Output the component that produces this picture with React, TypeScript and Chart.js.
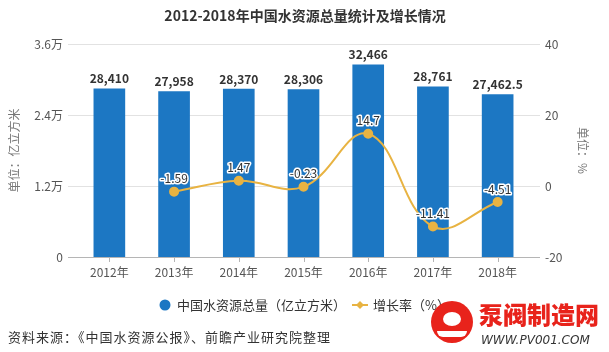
import React, { useEffect, useRef } from "react";
import { Chart, registerables } from "chart.js";

Chart.register(...registerables);

const FONT = "'Noto Sans CJK SC', 'Noto Sans', sans-serif";

const categories = ["2012年", "2013年", "2014年", "2015年", "2016年", "2017年", "2018年"];
const totalWater = [28410, 27958, 28370, 28306, 32466, 28761, 27462.5];
const totalLabels = ["28,410", "27,958", "28,370", "28,306", "32,466", "28,761", "27,462.5"];
const growthRate = [null, -1.59, 1.47, -0.23, 14.7, -11.41, -4.51];
const leftTicks = [0, 12000, 24000, 36000];
const leftTickLabels = ["0", "1.2万", "2.4万", "3.6万"];
const rightTicks = [-20, 0, 20, 40];

const title = "2012-2018年中国水资源总量统计及增长情况";
const seriesNames = ["中国水资源总量（亿立方米）", "增长率（%）"];
const leftAxisTitle = "单位：亿立方米";
const rightAxisTitle = "单位：%";
const sourceText = "资料来源：《中国水资源公报》、前瞻产业研究院整理";

const BLUE = "#1c77c3";
const GOLD = "#e8b342";

const decor = {
  id: "decor",
  beforeDatasetsDraw(chart: any) {
    const ctx = chart.ctx;
    const ca = chart.chartArea;
    const y = chart.scales.y;
    const x = chart.scales.x;
    ctx.save();
    leftTicks.forEach((v) => {
      const py = Math.round(y.getPixelForValue(v)) + 0.5;
      ctx.strokeStyle = v === 0 ? "#b5b5b5" : "#e2e2e2";
      ctx.lineWidth = 1;
      ctx.beginPath();
      ctx.moveTo(ca.left - 9, py);
      ctx.lineTo(ca.right + 10, py);
      ctx.stroke();
    });
    ctx.strokeStyle = "#b5b5b5";
    categories.forEach((_, i) => {
      const px = Math.round(x.getPixelForValue(i)) + 0.5;
      ctx.beginPath();
      ctx.moveTo(px, ca.bottom);
      ctx.lineTo(px, ca.bottom + 5);
      ctx.stroke();
    });
    ctx.restore();
  },
  afterDatasetsDraw(chart: any) {
    const ctx = chart.ctx;
    ctx.save();
    const barMeta = chart.getDatasetMeta(0);
    ctx.font = `bold 12px ${FONT}`;
    ctx.fillStyle = "#333";
    ctx.textAlign = "center";
    ctx.textBaseline = "bottom";
    barMeta.data.forEach((el: any, i: number) => {
      ctx.fillText(totalLabels[i], el.x, el.y - 4);
    });
    const lineMeta = chart.getDatasetMeta(1);
    ctx.font = `12px ${FONT}`;
    ctx.textBaseline = "middle";
    ctx.lineJoin = "round";
    lineMeta.data.forEach((el: any, i: number) => {
      const v = growthRate[i];
      if (v === null || v === undefined) return;
      const t = String(v);
      ctx.strokeStyle = "#fff";
      ctx.lineWidth = 3;
      ctx.strokeText(t, el.x, el.y - 13);
      ctx.fillStyle = "#333";
      ctx.fillText(t, el.x, el.y - 13);
    });
    ctx.restore();
  },
  afterDraw(chart: any) {
    const ctx = chart.ctx;
    const ca = chart.chartArea;
    ctx.save();
    ctx.font = `bold 14px ${FONT}`;
    ctx.fillStyle = "#333";
    ctx.textAlign = "center";
    ctx.textBaseline = "middle";
    ctx.fillText(title, 305, 16);
    const midY = (ca.top + ca.bottom) / 2;
    ctx.font = `12px ${FONT}`;
    ctx.fillStyle = "#777";
    ctx.save();
    ctx.translate(14, midY);
    ctx.rotate(-Math.PI / 2);
    ctx.fillText(leftAxisTitle, 0, 0);
    ctx.restore();
    ctx.save();
    ctx.translate(583, midY);
    ctx.rotate(Math.PI / 2);
    ctx.fillText(rightAxisTitle, 0, 0);
    ctx.restore();
    const ly = 305;
    ctx.fillStyle = BLUE;
    ctx.beginPath();
    ctx.arc(165, ly, 5.5, 0, Math.PI * 2);
    ctx.fill();
    ctx.font = `13px ${FONT}`;
    ctx.fillStyle = "#333";
    ctx.textAlign = "left";
    ctx.fillText(seriesNames[0], 177, ly);
    ctx.strokeStyle = GOLD;
    ctx.lineWidth = 2;
    ctx.beginPath();
    ctx.moveTo(352, ly);
    ctx.lineTo(368, ly);
    ctx.stroke();
    ctx.fillStyle = GOLD;
    ctx.beginPath();
    ctx.moveTo(360, ly - 4);
    ctx.lineTo(364, ly);
    ctx.lineTo(360, ly + 4);
    ctx.lineTo(356, ly);
    ctx.closePath();
    ctx.fill();
    ctx.fillStyle = "#333";
    ctx.fillText(seriesNames[1], 373, ly);
    ctx.restore();
  },
};

export default function App() {
  const ref = useRef<HTMLCanvasElement | null>(null);
  useEffect(() => {
    if (!ref.current) return;
    Chart.defaults.font.family = FONT;
    const chart = new Chart(ref.current, {
      data: {
        labels: categories,
        datasets: [
          {
            type: "bar",
            label: seriesNames[0],
            data: totalWater,
            backgroundColor: BLUE,
            barThickness: 31,
            yAxisID: "y",
            order: 2,
          },
          {
            type: "line",
            label: seriesNames[1],
            data: growthRate as any,
            borderColor: GOLD,
            backgroundColor: GOLD,
            borderWidth: 2,
            pointRadius: 4,
            pointBackgroundColor: GOLD,
            pointBorderColor: GOLD,
            tension: 0.4,
            yAxisID: "y1",
            order: 1,
          },
        ],
      } as any,
      options: {
        responsive: false,
        animation: false,
        devicePixelRatio: 1,
        layout: { padding: { top: 44, left: 0, right: 0, bottom: 0 } },
        plugins: { legend: { display: false }, tooltip: { enabled: false } },
        scales: {
          x: {
            offset: true,
            grid: { display: false, drawTicks: false },
            border: { display: false },
            ticks: { color: "#555", font: { size: 12 }, padding: 8 },
            afterFit: (s: any) => {
              s.height = 95;
            },
          },
          y: {
            position: "left",
            min: 0,
            max: 36000,
            afterBuildTicks: (s: any) => {
              s.ticks = leftTicks.map((v) => ({ value: v }));
            },
            ticks: {
              color: "#555",
              font: { size: 12 },
              padding: 14,
              callback: (v: any) => leftTickLabels[leftTicks.indexOf(Number(v))] ?? "",
            },
            grid: { display: false, drawTicks: false },
            border: { display: false },
            afterFit: (s: any) => {
              s.width = 77;
            },
          },
          y1: {
            position: "right",
            min: -20,
            max: 40,
            afterBuildTicks: (s: any) => {
              s.ticks = rightTicks.map((v) => ({ value: v }));
            },
            ticks: { color: "#555", font: { size: 12 }, padding: 15 },
            grid: { display: false, drawTicks: false },
            border: { display: false },
            afterFit: (s: any) => {
              s.width = 79;
            },
          },
        },
      },
      plugins: [decor],
    });
    return () => chart.destroy();
  }, []);

  return (
    <div style={{ position: "fixed", left: 0, top: 0, width: 609, height: 352, background: "#fff", overflow: "hidden" }}>
      <canvas ref={ref} width={609} height={352} style={{ width: 609, height: 352, display: "block" }} />
      <div
        style={{
          position: "absolute",
          left: 8,
          top: 328,
          fontFamily: FONT,
          fontSize: 13,
          color: "#333",
          whiteSpace: "nowrap",
          lineHeight: "18px",
          letterSpacing: 1,
        }}
      >
        {sourceText}
      </div>
      <div style={{ position: "absolute", left: 431, top: 301, width: 42, height: 46 }}>
        <div
          style={{
            position: "absolute",
            left: 0,
            top: 0,
            width: 42,
            height: 42,
            borderRadius: "50%",
            background: "#e8231b",
          }}
        />
        <div
          style={{
            position: "absolute",
            left: 12,
            top: 11,
            width: 18,
            height: 14,
            borderRadius: "50%",
            background: "#fff",
          }}
        />
        <div
          style={{
            position: "absolute",
            left: 6,
            top: 30,
            width: 30,
            height: 6,
            borderRadius: "0 0 15px 15px",
            background: "#fff",
          }}
        />
      </div>
      <div
        style={{
          position: "absolute",
          left: 479,
          top: 299,
          fontFamily: FONT,
          fontSize: 24,
          fontWeight: 900,
          color: "#e8231b",
          whiteSpace: "nowrap",
          lineHeight: "30px",
        }}
      >
        泵阀制造网
      </div>
      <div
        style={{
          position: "absolute",
          left: 481,
          top: 332,
          fontFamily: "'DejaVu Sans', sans-serif",
          fontSize: 12,
          fontStyle: "italic",
          color: "#333",
          whiteSpace: "nowrap",
          lineHeight: "16px",
        }}
      >
        WWW.PV001.COM
      </div>
    </div>
  );
}
